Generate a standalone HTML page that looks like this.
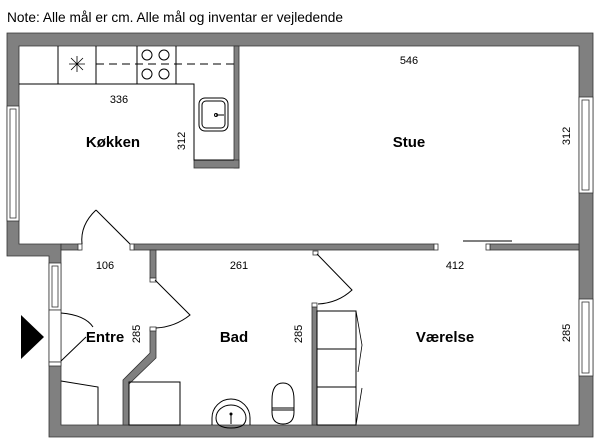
<!DOCTYPE html>
<html><head><meta charset="utf-8"><style>
html,body{margin:0;padding:0;background:#fff;}
svg{display:block;}
text{font-family:"Liberation Sans",sans-serif;fill:#000;}
.b{font-weight:bold;font-size:15px;}
.d{font-size:11px;}
</style></head><body>
<svg width="600" height="446" viewBox="0 0 600 446" xmlns="http://www.w3.org/2000/svg">
<text x="7" y="22" font-size="14" textLength="336" lengthAdjust="spacingAndGlyphs">Note: Alle mål er cm. Alle mål og inventar er vejledende</text>
<g stroke="#333" stroke-width="0.8">
<path d="M7,33H593V437H49V256H7Z M19,46V244H61V425H579V46Z" fill="#808080" fill-rule="evenodd"/>
<rect x="61" y="244" width="19" height="6" fill="#808080"/>
<rect x="134" y="244" width="300" height="6" fill="#808080"/>
<rect x="490" y="244" width="89" height="6" fill="#808080"/>
<rect x="78" y="244" width="4" height="6" fill="#fff"/>
<rect x="130" y="244" width="4" height="6" fill="#fff"/>
<rect x="434" y="244" width="4" height="6" fill="#fff"/>
<rect x="486" y="244" width="4" height="6" fill="#fff"/>
<rect x="234" y="46" width="5" height="122" fill="#808080"/>
<rect x="194" y="160" width="45" height="8" fill="#808080"/>
<rect x="150" y="250" width="6" height="28" fill="#808080"/>
<rect x="150" y="278" width="6" height="4" fill="#fff"/>
<path d="M150,329H156V358L129,384V425H123V380L150,353Z" fill="#808080"/>
<rect x="150" y="327" width="6" height="4" fill="#fff"/>
<rect x="312" y="307" width="5" height="118" fill="#808080"/>
<rect x="312" y="303" width="5" height="4" fill="#fff"/>
<rect x="313" y="251" width="5" height="4" fill="#fff"/>
<rect x="7" y="106" width="12" height="115" fill="#fff"/>
<rect x="10" y="109" width="6" height="109" fill="#fff"/>
<rect x="579" y="97" width="14" height="96" fill="#fff"/>
<rect x="582" y="100" width="7" height="90" fill="#fff"/>
<rect x="579" y="299" width="14" height="77" fill="#fff"/>
<rect x="582" y="302" width="7" height="71" fill="#fff"/>
<rect x="49" y="263" width="12" height="47" fill="#fff"/>
<rect x="52" y="266" width="6" height="41" fill="#fff"/>
<rect x="49" y="310" width="12" height="52" fill="#fff"/>
<rect x="49" y="362" width="12" height="4" fill="#fff"/>
</g>
<g fill="none" stroke="#000" stroke-width="1">
<path d="M19,84H194V160H234"/>
<path d="M58,46V84M96,46V84M137,46V84M176,46V84"/>
<path d="M96,64H234" stroke-dasharray="8,5"/>
<path d="M69,64H85M77,56V72M71,58L83,70M83,58L71,70" stroke-width="0.8"/>
<circle cx="147" cy="55" r="5"/><circle cx="164" cy="55" r="5"/>
<circle cx="147" cy="74" r="5"/><circle cx="164" cy="74" r="5"/>
<rect x="199" y="98" width="29" height="33" rx="6"/>
<rect x="202" y="101" width="23" height="27" rx="4"/>
<path d="M216,115H224"/><circle cx="216" cy="115" r="1.5"/>
<path d="M130,244L96,210"/>
<path d="M96,210Q80,225 82,244"/>
<path d="M463,241H512" stroke="#555" stroke-width="1.5"/>
<path d="M155,280L190,315Q175,327 156,328"/>
<path d="M317,254L352,290Q338,303 318,304"/>
<path d="M61,313Q85,315 93,327"/>
<path d="M61,361L86,337"/>
<path d="M61,381L98,387V425"/>
<rect x="129" y="382" width="51" height="43"/>
<path d="M212,425V418A19,19 0 0 1 250,418V425"/>
<path d="M216,418A15,13 0 0 1 246,418Q246,428 231,428Q216,428 216,418Z"/>
<path d="M231,414V424"/><circle cx="231" cy="414" r="1" fill="#000"/>
<path d="M272,400Q272,383 283,383Q294,383 294,400V412Q294,424 283,424Q272,424 272,412Z"/>
<path d="M272,408H294M272,410H294"/>
<rect x="317" y="311" width="39" height="114"/>
<path d="M317,349H356M317,387H356"/>
<path d="M356,311L362,345L358,372M362,388L356,425" stroke-width="0.8"/>
</g>
<polygon points="21,315 21,359 44,337" fill="#000"/>
<text class="b" x="113" y="147" text-anchor="middle">Køkken</text>
<text class="b" x="409" y="147" text-anchor="middle">Stue</text>
<text class="b" x="105" y="342" text-anchor="middle">Entre</text>
<text class="b" x="234" y="342" text-anchor="middle">Bad</text>
<text class="b" x="445" y="342" text-anchor="middle">Værelse</text>
<text class="d" x="119" y="103" text-anchor="middle">336</text>
<text class="d" x="409" y="64" text-anchor="middle">546</text>
<text class="d" x="105" y="269" text-anchor="middle">106</text>
<text class="d" x="239" y="269" text-anchor="middle">261</text>
<text class="d" x="455" y="269" text-anchor="middle">412</text>
<text class="d" transform="translate(185,141) rotate(-90)" text-anchor="middle">312</text>
<text class="d" transform="translate(570,136) rotate(-90)" text-anchor="middle">312</text>
<text class="d" transform="translate(140,334) rotate(-90)" text-anchor="middle">285</text>
<text class="d" transform="translate(302,334) rotate(-90)" text-anchor="middle">285</text>
<text class="d" transform="translate(570,333) rotate(-90)" text-anchor="middle">285</text>
</svg>
</body></html>
